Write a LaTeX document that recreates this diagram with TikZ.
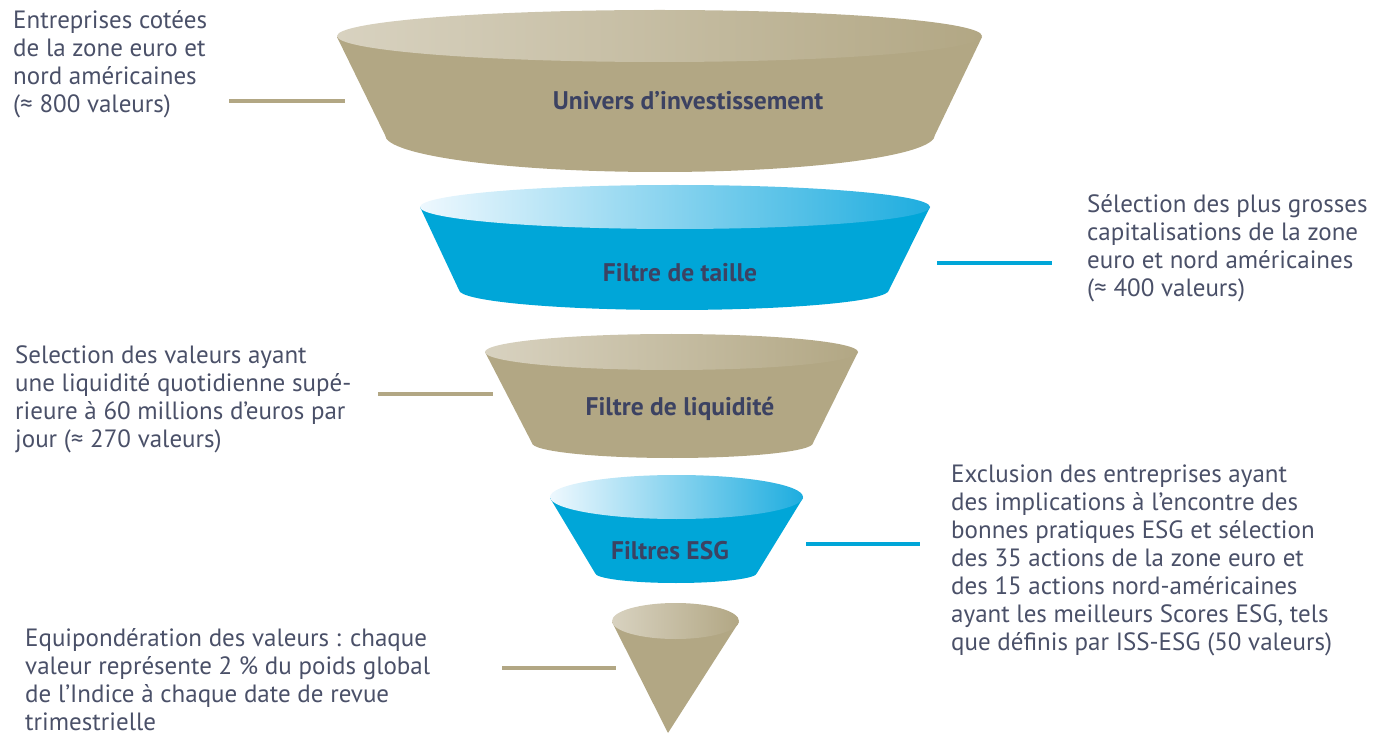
\documentclass[tikz,border=0pt]{standalone}
\usepackage{fontspec}
\setmainfont{PT Sans}
\definecolor{tan}{HTML}{B2A784}
\definecolor{tanlight}{HTML}{D8D2C0}
\definecolor{blu}{HTML}{00A6D8}
\definecolor{blutop}{HTML}{1EADDF}
\definecolor{blulight}{HTML}{EEF8FE}
\definecolor{txt}{HTML}{4A5068}
\definecolor{lbl}{HTML}{3C4262}
\tikzset{
  body/.style={font=\fontsize{25}{28}\selectfont, text=txt, align=left, inner sep=0pt, anchor=base west},
  lbltext/.style={font=\fontsize{25.5}{28}\selectfont\bfseries, text=lbl, inner sep=0pt},
  tanline/.style={draw=tan, line width=4pt},
  bluline/.style={draw=blu, line width=4pt},
}
\begin{document}
\begin{tikzpicture}[x=1pt,y=-1pt]
\useasboundingbox (0,0) rectangle (1385,735);
% ---------- funnel 1
\fill[tan] (337,37) -- (385,135) arc[start angle=180,end angle=0,x radius=275,y radius=37] -- (982,37) -- cycle;
\shade[left color=tanlight, right color=tan] (659.5,36) ellipse[x radius=322.5, y radius=26];
\node[lbltext] (f1) at (688,101) {Univers d’investissement};
% ---------- funnel 2
\fill[blu] (420,207) -- (459,290) arc[start angle=180,end angle=0,x radius=215,y radius=20] -- (930,207) -- cycle;
\shade[left color=blulight, right color=blutop] (675,207) ellipse[x radius=255, y radius=22];
\node[lbltext] (f2) at (680,273) {Filtre de taille};
% ---------- funnel 3
\fill[tan] (485,352) -- (532,443) arc[start angle=180,end angle=0,x radius=140.5,y radius=15] -- (858,352) -- cycle;
\shade[left color=tanlight, right color=tan] (671.5,352) ellipse[x radius=186.5, y radius=18];
\node[lbltext] (f3) at (680,409) {Filtre de liquidité};
% ---------- funnel 4
\fill[blu] (550,498) -- (595,573) arc[start angle=180,end angle=0,x radius=81,y radius=10] -- (803,498) -- cycle;
\shade[left color=blulight, right color=blutop] (676.5,497) ellipse[x radius=126.5, y radius=22];
\node[lbltext] (f4) at (670,551) {Filtres ESG};
% ---------- funnel 5 (cone)
\fill[tan] (612,622) -- (668,733) -- (739,622) -- cycle;
\shade[left color=tanlight, right color=tan] (675.5,621) ellipse[x radius=63.5, y radius=18];
\coordinate (f5) at (675,650);
% ---------- texts (anchor = baseline of last line)
\node[body] (t1) at (13,113) {Entreprises cotées\\de la zone euro et\\nord américaines\\(≈ 800 valeurs)};
\node[body] (t2) at (1087,297) {Sélection des plus grosses\\capitalisations de la zone\\euro et nord américaines\\(≈ 400 valeurs)};
\node[body] (t3) at (15,447) {Selection des valeurs ayant\\une liquidité quotidienne supé-\\rieure à 60 millions d’euros par\\jour (≈ 270 valeurs)};
\node[body] (t4) at (951,650.7) {Exclusion des entreprises ayant\\des implications à l’encontre des\\bonnes pratiques ESG et sélection\\des 35 actions de la zone euro et\\des 15 actions nord-américaines\\ayant les meilleurs Scores ESG, tels\\que définis par ISS-ESG (50 valeurs)};
\node[body] (t5) at (25,730) {Equipondération des valeurs : chaque\\valeur représente 2 \% du poids global\\de l’Indice à chaque date de revue\\trimestrielle};
% ---------- connectors
\coordinate (c1a) at (229,100.7); \coordinate (c1b) at (345,100.7);
\coordinate (c2a) at (937,262.7); \coordinate (c2b) at (1052,262.7);
\coordinate (c3a) at (378,394.3); \coordinate (c3b) at (493,394.3);
\coordinate (c4a) at (806,544.3); \coordinate (c4b) at (920,544.3);
\coordinate (c5a) at (502,668.3); \coordinate (c5b) at (616,668.3);
\draw[tanline] (c1a) -- (c1b);
\draw[bluline] (c2a) -- (c2b);
\draw[tanline] (c3a) -- (c3b);
\draw[bluline] (c4a) -- (c4b);
\draw[tanline] (c5a) -- (c5b);
\end{tikzpicture}
\end{document}
